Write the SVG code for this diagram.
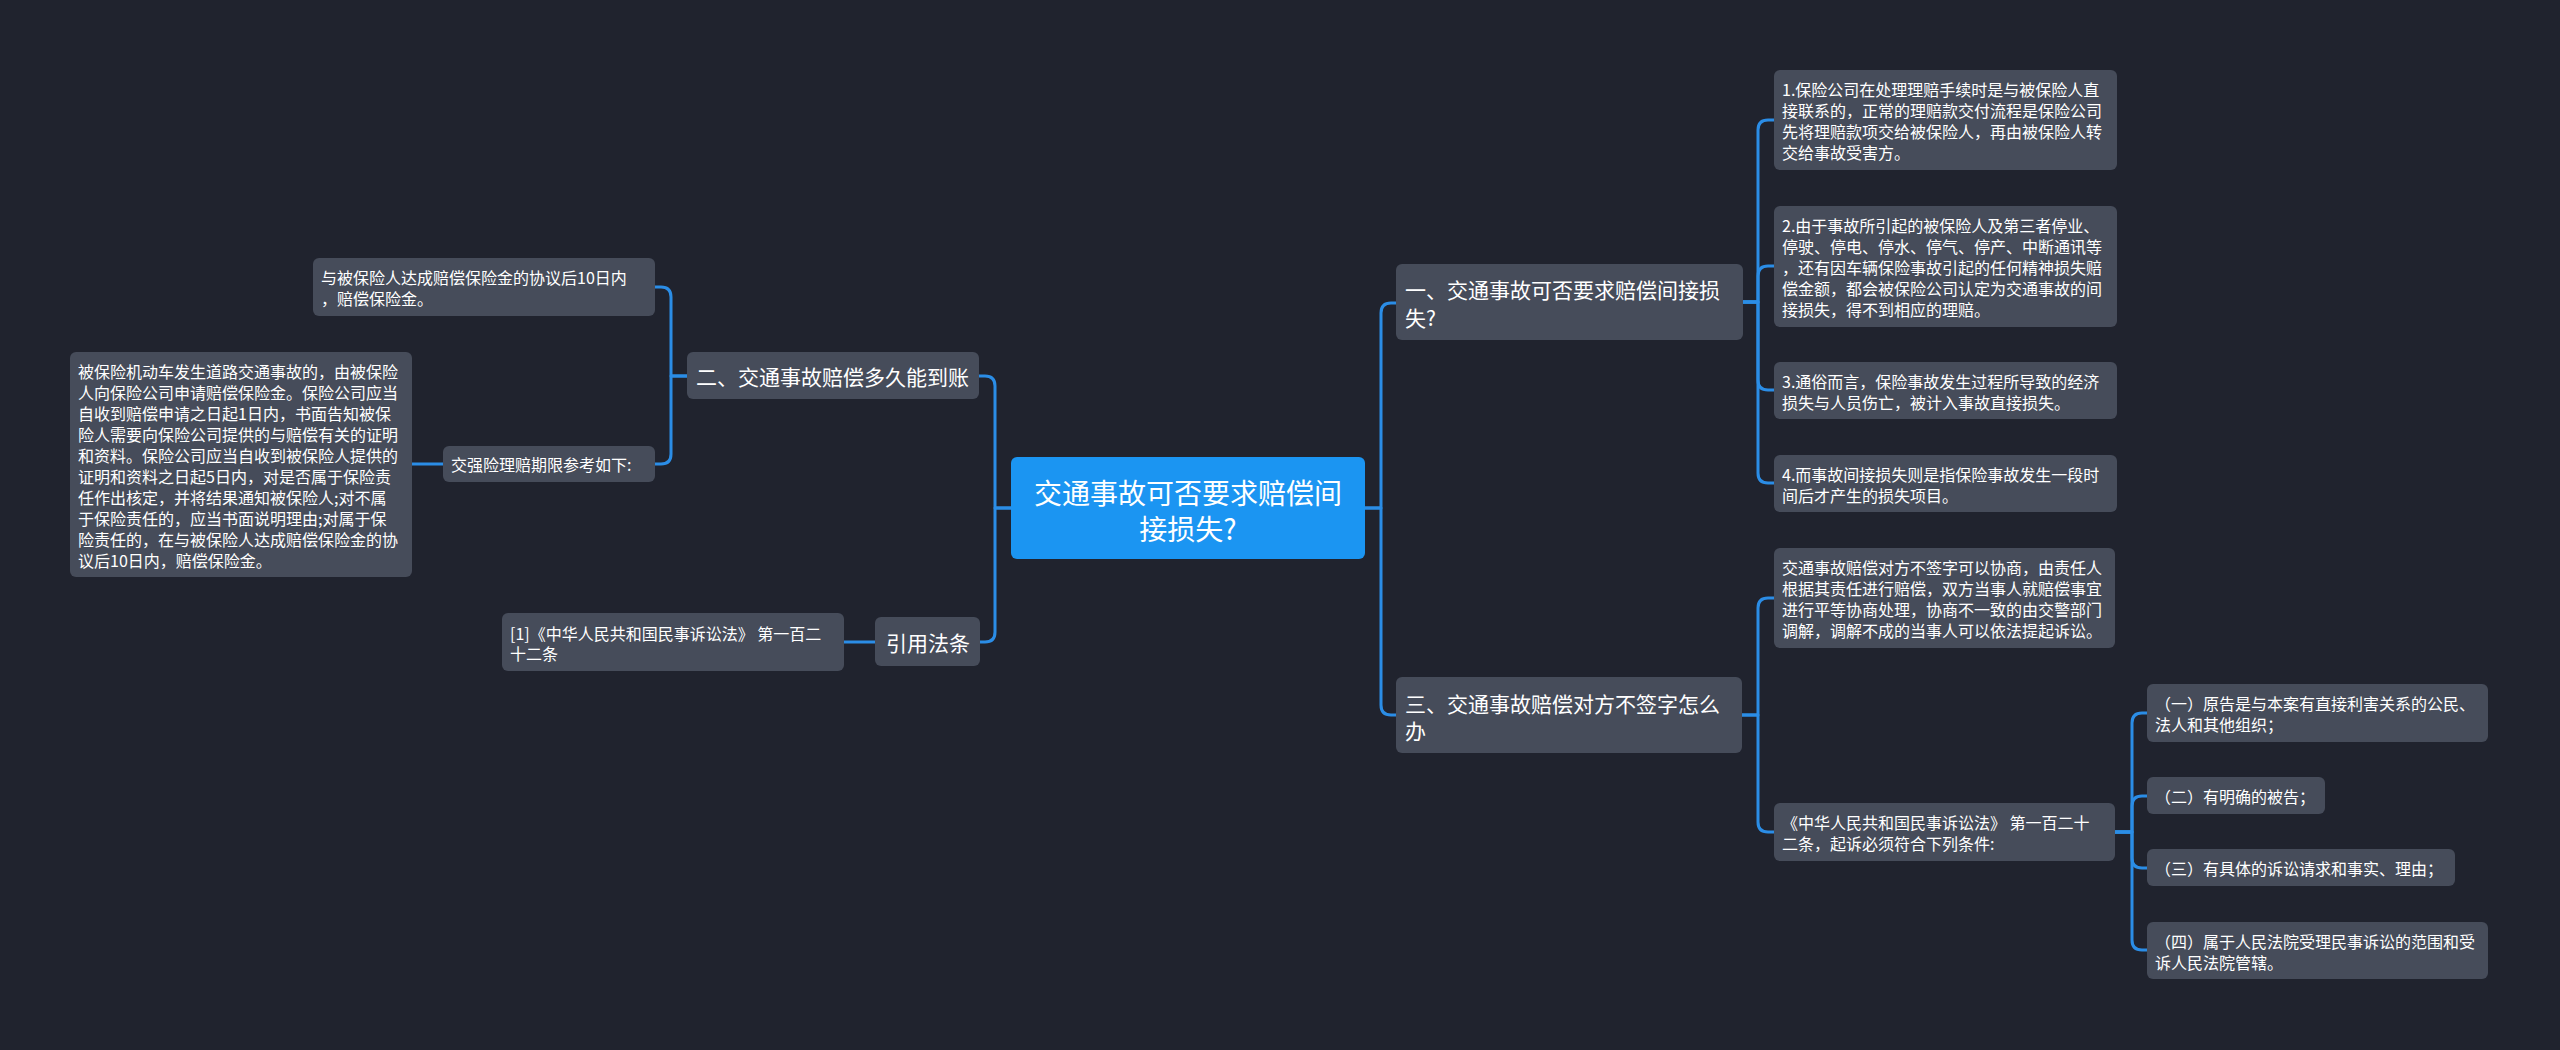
<svg xmlns="http://www.w3.org/2000/svg" width="2560" height="1050" viewBox="0 0 2560 1050">
<style>
.bg{fill:#20232e}
.box{fill:#464c5a}
.root{fill:#1b95f2}
.t{font-family:"Noto Sans CJK SC","Noto Sans",sans-serif;fill:#ffffff;dominant-baseline:central}
.s{font-size:16px}
.m{font-size:21px}
.l{font-size:28px}
.c{fill:none;stroke:#2b8de6;stroke-width:3;stroke-linecap:round;stroke-linejoin:round}
</style>
<rect class="bg" x="0" y="0" width="2560" height="1050"/>
<g id="connectors">
<path class="c" d="M1365,508 H1381 V313 Q1381,303 1391,303 H1396"/>
<path class="c" d="M1365,508 H1381 V705 Q1381,715 1391,715 H1396"/>
<path class="c" d="M1743,302 H1758 V130 Q1758,120 1768,120 H1774"/>
<path class="c" d="M1743,302 H1758 V276 Q1758,266 1768,266 H1774"/>
<path class="c" d="M1743,302 H1758 V380 Q1758,390 1768,390 H1774"/>
<path class="c" d="M1743,302 H1758 V473 Q1758,483 1768,483 H1774"/>
<path class="c" d="M1742,715 H1758 V608 Q1758,598 1768,598 H1774"/>
<path class="c" d="M1742,715 H1758 V822 Q1758,832 1768,832 H1774"/>
<path class="c" d="M2115,832 H2132 V723 Q2132,713 2142,713 H2147"/>
<path class="c" d="M2115,832 H2132 V806 Q2132,796 2142,796 H2147"/>
<path class="c" d="M2115,832 H2132 V858 Q2132,868 2142,868 H2147"/>
<path class="c" d="M2115,832 H2132 V940 Q2132,950 2142,950 H2147"/>
<path class="c" d="M1011,508 H995 V386 Q995,376 985,376 H979"/>
<path class="c" d="M1011,508 H995 V632 Q995,642 985,642 H980"/>
<path class="c" d="M687,376 H671 V297 Q671,287 661,287 H655"/>
<path class="c" d="M687,376 H671 V454 Q671,464 661,464 H655"/>
<path class="c" d="M443,464 H412"/>
<path class="c" d="M875,642 H844"/>
</g>
<g id="root">
<rect class="root" x="1011" y="457" width="354" height="102" rx="6"/>
<text class="t l" text-anchor="middle"><tspan x="1188" y="492">交通事故可否要求赔偿间</tspan><tspan x="1188" y="528">接损失?</tspan></text>
</g>
<g id="n1">
<rect class="box" x="1396" y="264" width="347" height="76" rx="6"/>
<text class="t m"><tspan x="1405" y="289">一、交通事故可否要求赔偿间接损</tspan><tspan x="1405" y="317">失?</tspan></text>
</g>
<g id="n1a">
<rect class="box" x="1774" y="70" width="343" height="100" rx="6"/>
<text class="t s"><tspan x="1782" y="89">1.保险公司在处理理赔手续时是与被保险人直</tspan><tspan x="1782" y="110">接联系的，正常的理赔款交付流程是保险公司</tspan><tspan x="1782" y="131">先将理赔款项交给被保险人，再由被保险人转</tspan><tspan x="1782" y="152">交给事故受害方。</tspan></text>
</g>
<g id="n1b">
<rect class="box" x="1774" y="206" width="343" height="121" rx="6"/>
<text class="t s"><tspan x="1782" y="225">2.由于事故所引起的被保险人及第三者停业、</tspan><tspan x="1782" y="246">停驶、停电、停水、停气、停产、中断通讯等</tspan><tspan x="1782" y="267">，还有因车辆保险事故引起的任何精神损失赔</tspan><tspan x="1782" y="288">偿金额，都会被保险公司认定为交通事故的间</tspan><tspan x="1782" y="309">接损失，得不到相应的理赔。</tspan></text>
</g>
<g id="n1c">
<rect class="box" x="1774" y="362" width="343" height="57" rx="6"/>
<text class="t s"><tspan x="1782" y="381">3.通俗而言，保险事故发生过程所导致的经济</tspan><tspan x="1782" y="402">损失与人员伤亡，被计入事故直接损失。</tspan></text>
</g>
<g id="n1d">
<rect class="box" x="1774" y="455" width="343" height="57" rx="6"/>
<text class="t s"><tspan x="1782" y="474">4.而事故间接损失则是指保险事故发生一段时</tspan><tspan x="1782" y="495">间后才产生的损失项目。</tspan></text>
</g>
<g id="n3">
<rect class="box" x="1396" y="677" width="346" height="76" rx="6"/>
<text class="t m"><tspan x="1405" y="703">三、交通事故赔偿对方不签字怎么</tspan><tspan x="1405" y="730">办</tspan></text>
</g>
<g id="n3a">
<rect class="box" x="1774" y="548" width="341" height="100" rx="6"/>
<text class="t s"><tspan x="1782" y="567">交通事故赔偿对方不签字可以协商，由责任人</tspan><tspan x="1782" y="588">根据其责任进行赔偿，双方当事人就赔偿事宜</tspan><tspan x="1782" y="609">进行平等协商处理，协商不一致的由交警部门</tspan><tspan x="1782" y="630">调解，调解不成的当事人可以依法提起诉讼。</tspan></text>
</g>
<g id="n3b">
<rect class="box" x="1774" y="803" width="341" height="58" rx="6"/>
<text class="t s"><tspan x="1782" y="822">《中华人民共和国民事诉讼法》 第一百二十</tspan><tspan x="1782" y="843">二条，起诉必须符合下列条件:</tspan></text>
</g>
<g id="n3b1">
<rect class="box" x="2147" y="684" width="341" height="58" rx="6"/>
<text class="t s"><tspan x="2155" y="703">（一）原告是与本案有直接利害关系的公民、</tspan><tspan x="2155" y="724">法人和其他组织；</tspan></text>
</g>
<g id="n3b2">
<rect class="box" x="2147" y="777" width="178" height="37" rx="6"/>
<text class="t s"><tspan x="2155" y="796">（二）有明确的被告；</tspan></text>
</g>
<g id="n3b3">
<rect class="box" x="2147" y="849" width="308" height="37" rx="6"/>
<text class="t s"><tspan x="2155" y="868">（三）有具体的诉讼请求和事实、理由；</tspan></text>
</g>
<g id="n3b4">
<rect class="box" x="2147" y="922" width="341" height="57" rx="6"/>
<text class="t s"><tspan x="2155" y="941">（四）属于人民法院受理民事诉讼的范围和受</tspan><tspan x="2155" y="962">诉人民法院管辖。</tspan></text>
</g>
<g id="n2">
<rect class="box" x="687" y="352" width="292" height="47" rx="6"/>
<text class="t m"><tspan x="696" y="376">二、交通事故赔偿多久能到账</tspan></text>
</g>
<g id="n2a">
<rect class="box" x="313" y="258" width="342" height="58" rx="6"/>
<text class="t s"><tspan x="321" y="277">与被保险人达成赔偿保险金的协议后10日内</tspan><tspan x="321" y="298">，赔偿保险金。</tspan></text>
</g>
<g id="n2b">
<rect class="box" x="443" y="446" width="212" height="36" rx="6"/>
<text class="t s"><tspan x="451" y="464">交强险理赔期限参考如下:</tspan></text>
</g>
<g id="n2b1">
<rect class="box" x="70" y="352" width="342" height="225" rx="6"/>
<text class="t s"><tspan x="78" y="371">被保险机动车发生道路交通事故的，由被保险</tspan><tspan x="78" y="392">人向保险公司申请赔偿保险金。保险公司应当</tspan><tspan x="78" y="413">自收到赔偿申请之日起1日内，书面告知被保</tspan><tspan x="78" y="434">险人需要向保险公司提供的与赔偿有关的证明</tspan><tspan x="78" y="455">和资料。保险公司应当自收到被保险人提供的</tspan><tspan x="78" y="476">证明和资料之日起5日内，对是否属于保险责</tspan><tspan x="78" y="497">任作出核定，并将结果通知被保险人;对不属</tspan><tspan x="78" y="518">于保险责任的，应当书面说明理由;对属于保</tspan><tspan x="78" y="539">险责任的，在与被保险人达成赔偿保险金的协</tspan><tspan x="78" y="560">议后10日内，赔偿保险金。</tspan></text>
</g>
<g id="n4">
<rect class="box" x="875" y="617" width="105" height="49" rx="6"/>
<text class="t m"><tspan x="886" y="642">引用法条</tspan></text>
</g>
<g id="n4a">
<rect class="box" x="502" y="613" width="342" height="58" rx="6"/>
<text class="t s"><tspan x="510" y="633">[1]《中华人民共和国民事诉讼法》 第一百二</tspan><tspan x="510" y="653">十二条</tspan></text>
</g>
</svg>
